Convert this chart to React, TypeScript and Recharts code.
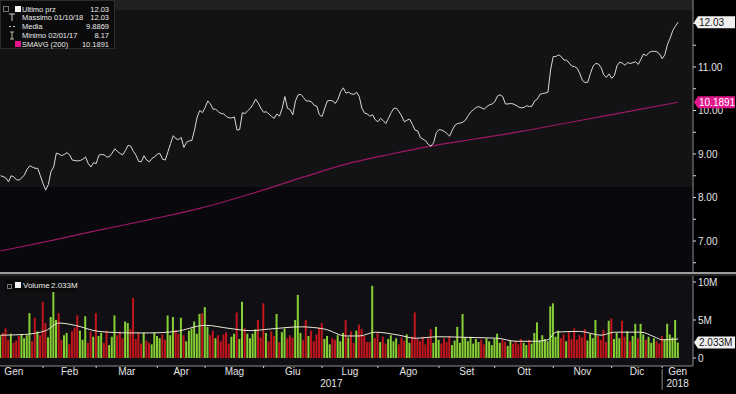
import React from "react";
import { ComposedChart, Line, Bar, Cell, XAxis, YAxis, ReferenceArea } from "recharts";

// Daily closes, 10 Jan 2017 -> 10 Jan 2018
const prices = [
  8.50, 8.48, 8.45, 8.36, 8.50, 8.47, 8.41, 8.40, 8.45, 8.52,
  8.65, 8.73, 8.70, 8.67, 8.67, 8.50, 8.32, 8.17, 8.30, 8.60,
  8.70, 9.02, 9.00, 8.96, 8.99, 9.03, 8.98, 8.86, 8.85, 8.84,
  8.85, 8.88, 8.93, 8.78, 8.70, 8.80, 8.78, 8.97, 8.99, 8.98,
  8.93, 8.94, 9.02, 9.12, 9.06, 9.01, 8.98, 9.08, 9.20, 9.18,
  9.06, 8.97, 8.83, 8.82, 8.96, 8.86, 8.82, 8.90, 8.93, 9.00,
  9.01, 8.88, 8.86, 9.05, 9.24, 9.42, 9.35, 9.33, 9.38, 9.15,
  9.27, 9.30, 9.31, 9.55, 9.85, 10.00, 9.95, 10.07, 10.22, 10.15,
  10.03, 10.03, 9.97, 9.93, 9.92, 9.86, 9.83, 9.83, 9.85, 9.55,
  9.56, 9.95, 9.93, 9.99, 10.05, 10.14, 10.26, 10.17, 10.05, 9.96,
  9.97, 9.92, 9.86, 9.82, 9.92, 9.87, 10.05, 10.32, 10.05, 10.02,
  9.90, 10.22, 10.36, 10.37, 10.30, 10.22, 10.22, 10.20, 10.12, 10.10,
  9.90, 9.86, 10.05, 10.22, 10.23, 10.22, 10.16, 10.26, 10.43, 10.52,
  10.40, 10.42, 10.38, 10.37, 10.42, 10.32, 10.05, 9.94, 9.92, 9.87,
  9.90, 9.79, 9.74, 9.82, 9.77, 9.70, 9.82, 9.95, 10.05, 10.05,
  9.97, 9.87, 9.74, 9.78, 9.80, 9.68, 9.55, 9.53, 9.38, 9.34,
  9.30, 9.22, 9.18, 9.26, 9.49, 9.56, 9.55, 9.52, 9.47, 9.41,
  9.55, 9.66, 9.70, 9.71, 9.73, 9.78, 9.88, 9.97, 10.02, 10.07,
  10.09, 10.06, 10.03, 10.09, 10.13, 10.15, 10.20, 10.33, 10.36, 10.32,
  10.15, 10.15, 10.16, 10.15, 10.12, 10.08, 10.06, 10.07, 10.11, 10.09,
  10.10, 10.22, 10.26, 10.37, 10.39, 10.40, 10.42, 10.93, 11.24, 11.24,
  11.28, 11.24, 11.16, 11.16, 11.09, 11.02, 11.01, 10.97, 10.85, 10.69,
  10.64, 10.65, 10.85, 11.02, 11.08, 11.07, 10.99, 10.82, 10.76, 10.84,
  10.74, 10.80, 11.03, 11.11, 11.09, 11.04, 11.10, 11.08, 11.10, 11.12,
  11.06, 11.18, 11.30, 11.26, 11.33, 11.36, 11.36, 11.35, 11.30, 11.19,
  11.28, 11.52, 11.66, 11.84, 11.94, 12.03,
];

// Daily volume, millions
const volumes = [
  3.0, 3.3, 3.9, 2.4, 3.2, 2.0, 2.3, 2.9, 3.1, 2.6,
  3.0, 5.9, 2.2, 5.3, 3.5, 3.0, 7.4, 4.6, 2.7, 5.4,
  9.6, 5.0, 5.9, 2.4, 3.0, 3.3, 1.8, 3.5, 4.0, 5.6,
  3.6, 2.4, 5.5, 2.0, 3.5, 2.8, 5.9, 2.9, 3.3, 2.0,
  3.6, 1.7, 2.8, 5.6, 3.0, 3.5, 2.6, 4.8, 4.6, 3.8,
  7.9, 2.5, 3.4, 1.9, 3.3, 2.3, 2.0, 1.8, 3.4, 2.9,
  2.6, 3.1, 2.4, 5.6, 3.0, 5.4, 3.7, 3.2, 5.3, 3.0,
  2.2, 3.6, 3.9, 4.8, 3.2, 5.8, 5.9, 6.7, 4.1, 3.0,
  3.6, 2.6, 3.0, 2.2, 3.1, 3.4, 1.9, 2.8, 3.2, 6.0,
  2.5, 7.4, 3.9, 3.2, 2.6, 3.2, 3.8, 5.0, 2.7, 7.2,
  3.3, 2.2, 3.5, 2.9, 5.8, 2.1, 3.4, 3.9, 2.6, 3.0,
  2.7, 5.0, 8.3, 3.3, 2.4, 5.0, 2.9, 3.6, 2.2, 3.1,
  4.0, 4.6, 2.5, 2.9, 1.8, 2.6, 2.4, 3.0, 2.2, 3.3,
  5.0, 2.7, 3.5, 2.0, 3.6, 4.4, 3.8, 2.9, 2.1, 2.1,
  9.5, 2.6, 3.3, 2.1, 2.8, 1.9, 2.5, 3.0, 2.2, 2.6,
  1.8, 2.7, 2.3, 3.1, 2.0, 2.8, 6.0, 2.5, 2.2, 2.8,
  1.8, 2.6, 3.8, 2.0, 4.1, 2.4, 1.9, 2.6, 2.1, 2.9,
  1.7, 2.3, 4.1, 2.0, 5.8, 2.7, 2.2, 2.8, 1.9, 2.5,
  2.1, 2.4, 1.8, 2.6, 2.2, 1.7, 2.5, 3.2, 2.0, 2.4,
  2.1, 1.6, 2.3, 1.9, 2.2, 1.8, 2.5, 2.0, 1.7, 2.4,
  1.9, 3.3, 4.7, 2.3, 3.0, 2.5, 2.2, 6.8, 7.2, 2.8,
  3.6, 2.6, 3.1, 2.2, 3.4, 2.5, 3.9, 2.4, 3.0, 2.7,
  3.8, 2.3, 3.2, 2.6, 5.0, 2.9, 2.4, 3.7, 2.1, 4.9,
  5.2, 2.5, 3.3, 2.6, 4.9, 2.8, 3.5, 2.2, 2.9, 4.5,
  2.6, 4.5, 3.1, 2.4, 2.8, 2.0, 2.6, 2.2, 1.9, 2.9,
  2.4, 4.5, 3.1, 2.7, 5.0, 2.033,
];

// 200-day simple moving average, read at a few days: [day, value]
const smaPoints: [number, number][] = [
  [0, 6.77], [19, 7.01], [37, 7.25], [56, 7.49], [75, 7.75], [94, 8.08],
  [113, 8.45], [132, 8.8], [147, 9.0], [162, 9.18], [179, 9.35], [196, 9.52],
  [211, 9.69], [226, 9.86], [241, 10.03], [255, 10.1891],
];

// volume moving average (white line in the lower panel)
const volAvgPoints: [number, number][] = [
  [0, 3.0], [9, 3.1], [17, 3.6], [22, 4.6], [28, 4.3], [37, 3.5], [49, 3.3],
  [56, 3.3], [66, 3.5], [77, 4.3], [86, 3.9], [94, 3.6], [101, 3.8], [113, 4.1],
  [122, 3.8], [130, 2.9], [135, 2.9], [141, 3.4], [150, 3.0], [156, 2.6],
  [165, 2.8], [177, 2.7], [187, 2.6], [194, 2.2], [201, 2.2], [206, 2.4],
  [209, 3.4], [218, 3.5], [226, 3.0], [231, 3.4], [241, 3.4], [246, 2.8],
  [249, 2.4], [255, 2.5],
];

// first trading day of each month (index into the daily arrays)
const monthStarts = [-6, 16, 36, 59, 77, 99, 121, 142, 165, 186, 208, 230, 249];
const monthLabels = ["Gen", "Feb", "Mar", "Apr", "Mag", "Giu", "Lug", "Ago", "Set", "Ott", "Nov", "Dic", "Gen"];
const yearLabels = ["2017", "2018"];

const legendRows = [
  { label: "Ultimo prz", value: "12.03", icon: "last" },
  { label: "Massimo 01/10/18", value: "12.03", icon: "high" },
  { label: "Media", value: "9.8869", icon: "avg" },
  { label: "Minimo 02/01/17", value: "8.17", icon: "low" },
  { label: "SMAVG (200)", value: "10.1891", icon: "sma" },
];

const FONT = "'Liberation Sans', Arial, sans-serif";
const W = 736;
const X_DOMAIN: [number, number] = [-0.2, 260.6];
const PRICE_DOMAIN: [number, number] = [6.287, 12.54];
const VOL_DOMAIN: [number, number] = [-1.05, 10.79];
const GREEN = "#86cf34";
const RED = "#c3161c";
const MAGENTA = "#e2178b";
const TEXT = "#e4e4e4";

const smaMap = new Map(smaPoints);
const vaMap = new Map(volAvgPoints);
const data = prices.map((p, i) => ({
  k: i,
  price: p,
  vol: volumes[i],
  up: i === 0 || p >= prices[i - 1],
  sma: smaMap.has(i) ? smaMap.get(i) : null,
  vavg: vaMap.has(i) ? vaMap.get(i) : null,
}));

const lastPrice = prices[prices.length - 1];
const lastSma = smaPoints[smaPoints.length - 1][1];
const lastVol = volumes[volumes.length - 1];

const priceTicks = [6.5, 7.5, 8.5, 9.5, 10.5, 11.5, 7, 8, 9, 10, 11, 12, lastPrice, lastSma];
const volTicks = [0, 5, 10, lastVol];

// x axis: month boundary marks, month names centred in each month, years underneath
const edges = [...monthStarts, X_DOMAIN[1]];
const yearStart = monthStarts[monthStarts.length - 1];
const xTickSpecs = [
  ...monthStarts.filter((s) => s > 0).map((v) => ({ v, kind: "mark", text: "" })),
  ...monthLabels.map((t, i) => ({ v: (edges[i] + edges[i + 1]) / 2, kind: "month", text: t })),
  { v: yearStart / 2 + 0.001, kind: "year", text: yearLabels[0] },
  { v: (yearStart + X_DOMAIN[1]) / 2 + 0.001, kind: "year", text: yearLabels[1] },
];

const near = (a: number, b: number) => Math.abs(a - b) < 1e-6;

const Badge = ({ x, y, text, fill, color }: any) => (
  <g>
    <path d={`M${x + 1},${y} L${x + 5},${y - 6} L${x + 42},${y - 6} L${x + 42},${y + 6} L${x + 5},${y + 6} Z`} fill={fill} />
    <text x={x + 6} y={y} dy="0.36em" fontSize={10} fontFamily={FONT} fill={color}>
      {text}
    </text>
  </g>
);

const PriceTick = (props: any) => {
  const { x, y, payload } = props;
  const v = payload.value as number;
  if (near(v, lastPrice)) return <Badge x={x} y={y} text={v.toFixed(2)} fill="#f0f0f0" color="#111" />;
  if (near(v, lastSma)) return <Badge x={x} y={y} text={v.toFixed(4)} fill={MAGENTA} color="#fff" />;
  const major = near(v, Math.round(v));
  return (
    <g>
      <line x1={x} x2={x + 3} y1={y} y2={y} stroke="#d8d8d8" />
      {major && (
        <text x={x + 5} y={y} dy="0.36em" fontSize={10} fontFamily={FONT} fill={TEXT}>
          {v.toFixed(2)}
        </text>
      )}
    </g>
  );
};

const VolTick = (props: any) => {
  const { x, y, payload } = props;
  const v = payload.value as number;
  if (near(v, lastVol)) return <Badge x={x} y={y} text={`${v.toFixed(3)}M`} fill="#f0f0f0" color="#111" />;
  return (
    <g>
      <line x1={x} x2={x + 3} y1={y} y2={y} stroke="#d8d8d8" />
      <text x={x + 5} y={y} dy="0.36em" fontSize={10} fontFamily={FONT} fill={TEXT}>
        {v === 0 ? "0" : `${v}M`}
      </text>
    </g>
  );
};

const DateTick = (props: any) => {
  const { x, y, payload } = props;
  const spec = xTickSpecs.find((s) => near(s.v, payload.value));
  if (!spec) return null;
  if (spec.kind === "mark") {
    return (
      <g>
        <line x1={x} x2={x} y1={y} y2={y + 2} stroke="#d0d0d0" />
        {spec.v === yearStart && <line x1={x} x2={x} y1={y + 3} y2={y + 24} stroke="#8a8a8a" />}
      </g>
    );
  }
  return (
    <text
      x={x}
      y={spec.kind === "month" ? y + 5 : y + 17}
      dy="0.36em"
      textAnchor="middle"
      fontSize={10}
      fontFamily={FONT}
      fill={TEXT}
    >
      {spec.text}
    </text>
  );
};

const LegendIcon = ({ kind }: { kind: string }) => {
  if (kind === "last" || kind === "sma")
    return (
      <span
        style={{
          position: "absolute",
          left: 14,
          top: 1,
          width: 6,
          height: 6,
          background: kind === "sma" ? MAGENTA : "#f4f4f4",
        }}
      />
    );
  const c = kind === "low" ? "#b8c6a0" : "#cfcfcf";
  return (
    <svg style={{ position: "absolute", left: 7, top: 0 }} width={8} height={9}>
      {kind === "high" && <path d="M1,1 H7 M4,1 V8" stroke={c} strokeWidth={1} fill="none" />}
      {kind === "avg" && <path d="M1,4.5 H3 M5,4.5 H7" stroke={c} strokeWidth={1} />}
      {kind === "low" && <path d="M2,1 H6 M4,1 V8 M2,8 H6" stroke={c} strokeWidth={1} fill="none" />}
    </svg>
  );
};

export default function App() {
  return (
    <div
      style={{
        position: "fixed",
        left: 0,
        top: 0,
        width: W,
        height: 394,
        background: "#000",
        overflow: "hidden",
        fontFamily: FONT,
      }}
    >
      {/* price panel */}
      <div style={{ position: "absolute", left: 0, top: 0 }}>
        <ComposedChart width={W} height={272} data={data} margin={{ top: 0, right: 0, bottom: 0, left: 0 }}>
          <ReferenceArea y1={12.29} y2={PRICE_DOMAIN[1]} fill="#202023" fillOpacity={1} stroke="none" ifOverflow="hidden" />
          <ReferenceArea y1={8.24} y2={12.29} fill="#131315" fillOpacity={1} stroke="none" ifOverflow="hidden" />
          <ReferenceArea y1={PRICE_DOMAIN[0]} y2={8.24} fill="#08080d" fillOpacity={1} stroke="none" ifOverflow="hidden" />
          <XAxis type="number" dataKey="k" domain={X_DOMAIN} allowDataOverflow hide />
          <YAxis
            orientation="right"
            width={43}
            type="number"
            domain={PRICE_DOMAIN}
            allowDataOverflow
            ticks={priceTicks}
            interval={0}
            tickSize={0}
            tickMargin={0}
            tickLine={false}
            axisLine={{ stroke: "#8c8c8c" }}
            tick={(p: any) => <PriceTick {...p} />}
          />
          <Line
            dataKey="sma"
            type="monotone"
            connectNulls
            stroke="#9c1866"
            strokeWidth={1.2}
            dot={false}
            activeDot={false}
            isAnimationActive={false}
          />
          <Line
            dataKey="price"
            type="linear"
            stroke="#d9d9d9"
            strokeWidth={1}
            dot={false}
            activeDot={false}
            isAnimationActive={false}
          />
        </ComposedChart>
      </div>

      {/* panel separator */}
      <div style={{ position: "absolute", left: 0, top: 272, width: W, height: 2, background: "#9c9c9c" }} />
      <div style={{ position: "absolute", left: 0, top: 274, width: W, height: 2, background: "#262626" }} />

      {/* volume panel */}
      <div style={{ position: "absolute", left: 0, top: 276 }}>
        <ComposedChart width={W} height={118} data={data} margin={{ top: 0, right: 0, bottom: 0, left: 0 }}>
          <ReferenceArea y1={VOL_DOMAIN[0]} y2={VOL_DOMAIN[1]} fill="#101014" fillOpacity={1} stroke="none" ifOverflow="hidden" />
          <XAxis
            type="number"
            dataKey="k"
            domain={X_DOMAIN}
            allowDataOverflow
            height={28}
            ticks={xTickSpecs.map((s) => s.v)}
            interval={0}
            tickSize={0}
            tickMargin={0}
            tickLine={false}
            axisLine={{ stroke: "#8c8c8c" }}
            tick={(p: any) => <DateTick {...p} />}
          />
          <YAxis
            orientation="right"
            width={43}
            type="number"
            domain={VOL_DOMAIN}
            allowDataOverflow
            ticks={volTicks}
            interval={0}
            tickSize={0}
            tickMargin={0}
            tickLine={false}
            axisLine={{ stroke: "#8c8c8c" }}
            tick={(p: any) => <VolTick {...p} />}
          />
          <Bar dataKey="vol" barSize={2} isAnimationActive={false}>
            {data.map((d, i) => (
              <Cell key={`v-${i}`} fill={d.up ? GREEN : RED} />
            ))}
          </Bar>
          <Line
            dataKey="vavg"
            type="monotone"
            connectNulls
            stroke="#ece8d6"
            strokeWidth={1}
            dot={false}
            activeDot={false}
            isAnimationActive={false}
          />
        </ComposedChart>
      </div>

      {/* price legend */}
      <div
        style={{
          position: "absolute",
          left: 0,
          top: 0,
          width: 115,
          height: 49,
          background: "#0b0b0b",
          border: "1px solid #2c2c2c",
          boxSizing: "border-box",
        }}
      >
        <span style={{ position: "absolute", left: 2, top: 5, width: 4, height: 4, border: "1px solid #777" }} />
        {legendRows.map((r, i) => (
          <div
            key={r.label}
            style={{
              position: "absolute",
              left: 0,
              top: 3.5 + i * 8.8,
              width: 113,
              height: 9,
              fontSize: 7.5,
              lineHeight: "9px",
              color: "#ececec",
              whiteSpace: "nowrap",
            }}
          >
            <LegendIcon kind={r.icon} />
            <span style={{ position: "absolute", left: 21 }}>{r.label}</span>
            <span style={{ position: "absolute", right: 5 }}>{r.value}</span>
          </div>
        ))}
      </div>

      {/* volume legend */}
      <div
        style={{
          position: "absolute",
          left: 5,
          top: 279,
          width: 72,
          height: 13,
          background: "#0b0b0b",
          fontSize: 8,
          lineHeight: "13px",
          color: "#ececec",
          whiteSpace: "nowrap",
        }}
      >
        <span style={{ position: "absolute", left: 2, top: 5, width: 3, height: 3, border: "1px solid #777" }} />
        <span style={{ position: "absolute", left: 10, top: 3, width: 6, height: 6, background: "#f4f4f4" }} />
        <span style={{ position: "absolute", left: 18 }}>Volume</span>
        <span style={{ position: "absolute", left: 46 }}>{`${lastVol.toFixed(3)}M`}</span>
      </div>
    </div>
  );
}
